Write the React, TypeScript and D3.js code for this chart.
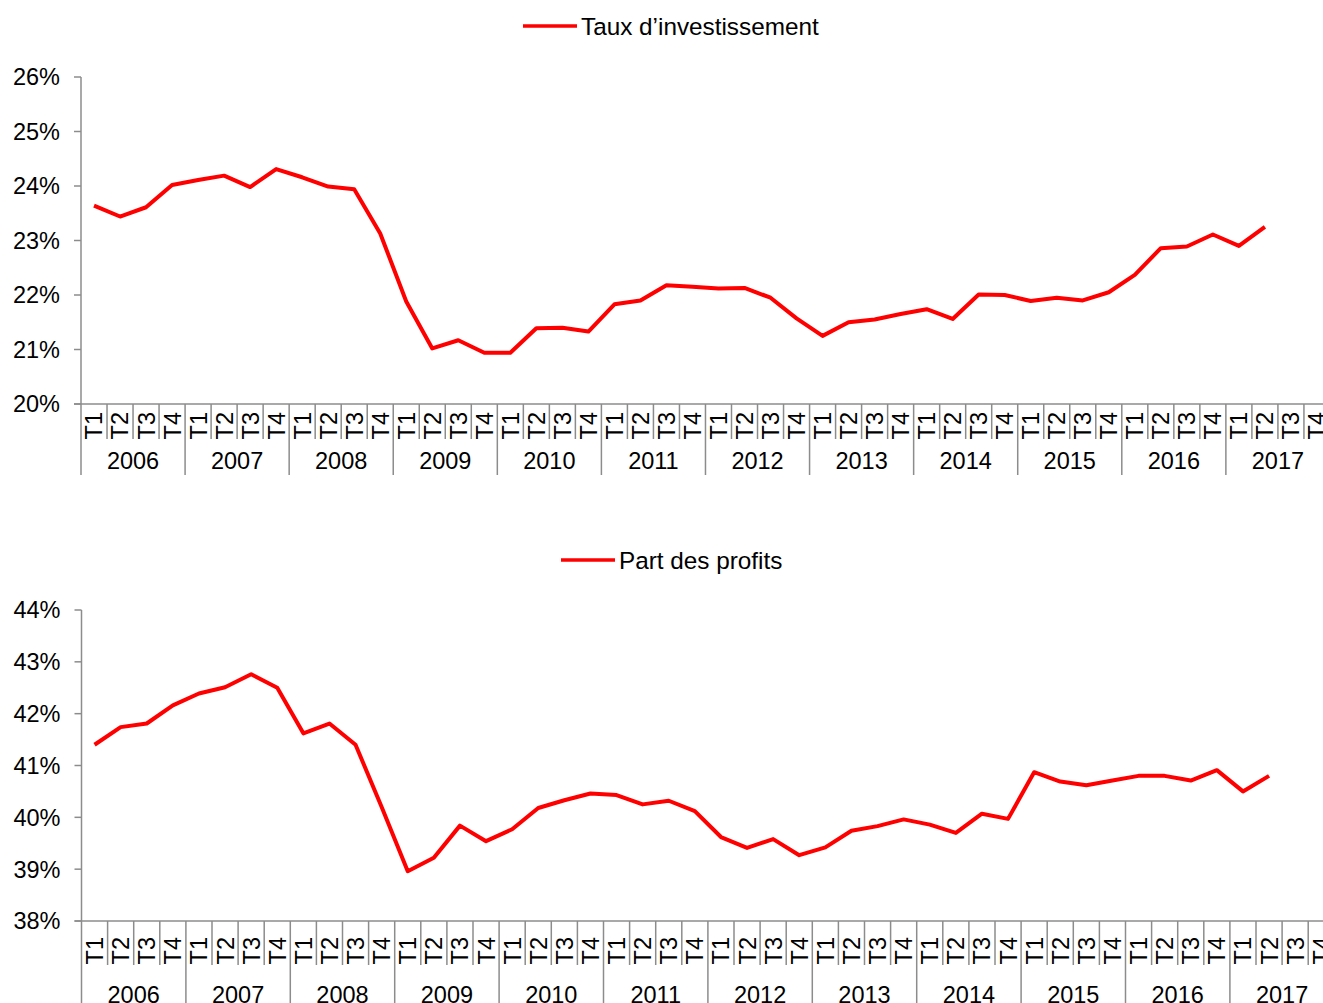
import React from "react";
import * as d3 from "d3";

const years = ["2006","2007","2008","2009","2010","2011","2012","2013","2014","2015","2016","2017"];
const quarters = ["T1","T2","T3","T4"];

const tauxInvestissement = [
  23.64, 23.44, 23.61, 24.02,
  24.11, 24.19, 23.98, 24.31,
  24.16, 23.99, 23.94, 23.13,
  21.88, 21.02, 21.17, 20.94,
  20.94, 21.39, 21.40, 21.33,
  21.83, 21.90, 22.18, 22.15,
  22.12, 22.13, 21.95, 21.57,
  21.25, 21.50, 21.55, 21.65,
  21.74, 21.56, 22.01, 22.00,
  21.89, 21.95, 21.90, 22.05,
  22.37, 22.86, 22.89, 23.11,
  22.90, 23.25,
];

const partProfits = [
  41.40, 41.74, 41.81, 42.16,
  42.39, 42.51, 42.76, 42.50,
  41.62, 41.81, 41.40, 40.20,
  38.96, 39.22, 39.84, 39.54,
  39.77, 40.18, 40.33, 40.46,
  40.43, 40.25, 40.32, 40.12,
  39.62, 39.41, 39.58, 39.27,
  39.42, 39.74, 39.83, 39.96,
  39.86, 39.70, 40.07, 39.97,
  40.87, 40.69, 40.62, 40.71,
  40.80, 40.80, 40.71, 40.91,
  40.50, 40.80,
];

const investTicks = [20, 21, 22, 23, 24, 25, 26];
const profitTicks = [38, 39, 40, 41, 42, 43, 44];

const FONT = "'Liberation Sans', Arial, sans-serif";
const AXIS = "#8c8c8c";
const RED = "#ff0000";
const FS = 23.5;
const LEGEND_FS = 24.3;

type PanelProps = {
  label: string;
  values: number[];
  ticks: number[];
  yTop: number;
  yBottom: number;
  xLeft: number;
  step: number;
  legendX: number;
  legendY: number;
  qSepEnd: number;
  qLabelTop: number;
  yearSepEnd: number;
  yearBaseline: number;
};

function Panel(p: PanelProps) {
  const cats = years.flatMap((y) => quarters.map((q) => `${y}-${q}`));
  const x = d3.scaleBand<string>().domain(cats).range([p.xLeft, p.xLeft + cats.length * p.step]).padding(0);
  const y = d3.scaleLinear().domain([p.ticks[0], p.ticks[p.ticks.length - 1]]).range([p.yBottom, p.yTop]);
  const bw = x.bandwidth();
  const line = d3
    .line<number>()
    .x((_, i) => (x(cats[i]) as number) + bw / 2)
    .y((d) => y(d));

  return (
    <g>
      {/* legend */}
      <line x1={p.legendX} x2={p.legendX + 54} y1={p.legendY} y2={p.legendY} stroke={RED} strokeWidth={3.5} />
      <text x={p.legendX + 58} y={p.legendY} dy="0.35em" fontFamily={FONT} fontSize={LEGEND_FS} fill="#000">
        {p.label}
      </text>
      {/* y axis */}
      <line x1={p.xLeft} x2={p.xLeft} y1={p.yTop} y2={p.yearSepEnd} stroke={AXIS} strokeWidth={1.5} />
      {p.ticks.map((t) => (
        <g key={t}>
          <line x1={p.xLeft - 7} x2={p.xLeft} y1={y(t)} y2={y(t)} stroke={AXIS} strokeWidth={1.5} />
          <text x={p.xLeft - 21} y={y(t)} dy="0.36em" textAnchor="end" fontFamily={FONT} fontSize={FS} fill="#000">
            {`${t}%`}
          </text>
        </g>
      ))}
      {/* x axis */}
      <line x1={p.xLeft - 7} x2={p.xLeft + cats.length * p.step + 2} y1={p.yBottom} y2={p.yBottom} stroke={AXIS} strokeWidth={1.5} />
      {cats.map((c, i) => {
        const x0 = x(c) as number;
        const isYear = i % 4 === 0;
        return (
          <g key={c}>
            {i > 0 && (
              <line
                x1={x0}
                x2={x0}
                y1={p.yBottom}
                y2={isYear ? p.yearSepEnd : p.qSepEnd}
                stroke={AXIS}
                strokeWidth={1.5}
              />
            )}
            <text
              transform={`translate(${x0 + bw / 2},${p.qLabelTop}) rotate(-90)`}
              dy="0.36em"
              textAnchor="end"
              fontFamily={FONT}
              fontSize={FS}
              fill="#000"
            >
              {quarters[i % 4]}
            </text>
          </g>
        );
      })}
      <line x1={p.xLeft + cats.length * p.step} x2={p.xLeft + cats.length * p.step} y1={p.yBottom} y2={p.yearSepEnd} stroke={AXIS} strokeWidth={1.5} />
      {years.map((yr) => {
        const x0 = x(`${yr}-T1`) as number;
        return (
          <text key={yr} x={x0 + 2 * bw} y={p.yearBaseline} textAnchor="middle" fontFamily={FONT} fontSize={FS} fill="#000">
            {yr}
          </text>
        );
      })}
      <path d={line(p.values) || ""} fill="none" stroke={RED} strokeWidth={4} strokeLinejoin="round" />
    </g>
  );
}

export default function App() {
  return (
    <div style={{ position: "absolute", left: 0, top: 0, width: 1323, height: 1003, overflow: "hidden", background: "#fff" }}>
      <svg width={1323} height={1003} style={{ display: "block" }}>
        <rect width={1323} height={1003} fill="#fff" />
        <Panel
          label="Taux d’investissement"
          values={tauxInvestissement}
          ticks={investTicks}
          yTop={77}
          yBottom={404}
          xLeft={81}
          step={26.02}
          legendX={523}
          legendY={26}
          qSepEnd={439}
          qLabelTop={412}
          yearSepEnd={475}
          yearBaseline={469}
        />
        <Panel
          label="Part des profits"
          values={partProfits}
          ticks={profitTicks}
          yTop={610}
          yBottom={921}
          xLeft={81.5}
          step={26.1}
          legendX={561}
          legendY={560}
          qSepEnd={965}
          qLabelTop={937}
          yearSepEnd={1010}
          yearBaseline={1003}
        />
      </svg>
    </div>
  );
}
